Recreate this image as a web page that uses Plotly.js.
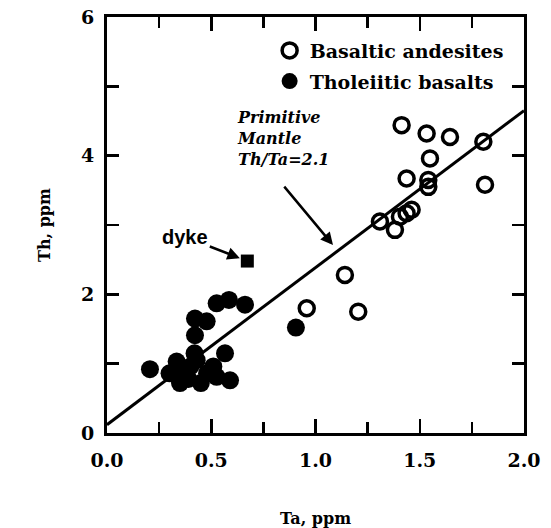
<!DOCTYPE html>
<html>
<head>
<meta charset="utf-8">
<script src="https://cdn.plot.ly/plotly-3.0.1.min.js"></script>
<style>html,body{margin:0;padding:0;background:#fff;}#chart{width:551px;height:528px;}</style>
</head>
<body>
<div id="chart"></div>
<script>
// Basaltic andesites (open circles)
const andesiteTa = [1.413, 1.533, 1.645, 1.805, 1.549, 1.437, 1.541, 1.541, 1.813, 1.461, 1.437, 1.405, 1.309, 1.381, 1.141, 0.958, 1.205];
const andesiteTh = [4.44, 4.32, 4.27, 4.20, 3.96, 3.67, 3.65, 3.55, 3.58, 3.22, 3.17, 3.12, 3.05, 2.93, 2.28, 1.80, 1.75];
// Tholeiitic basalts (filled circles)
const basaltTa = [0.206, 0.334, 0.30, 0.35, 0.366, 0.39, 0.40, 0.45, 0.43, 0.42, 0.48, 0.51, 0.526, 0.566, 0.59, 0.422, 0.422, 0.478, 0.526, 0.585, 0.662, 0.906];
const basaltTh = [0.92, 1.03, 0.86, 0.72, 0.86, 0.78, 0.96, 0.72, 1.05, 1.15, 0.86, 0.96, 0.81, 1.15, 0.76, 1.41, 1.65, 1.61, 1.87, 1.92, 1.85, 1.52];
// Dyke sample
const dykeTa = [0.673];
const dykeTh = [2.48];
// Primitive mantle reference line
const lineTa = [0, 2];
const lineTh = [0.12, 4.65];
// Axis ticks
const xTicks = [0, 0.5, 1.0, 1.5, 2.0];
const xTickText = ['0.0', '0.5', '1.0', '1.5', '2.0'];
const yTicks = [0, 2, 4, 6];
const yTickText = ['0', '2', '4', '6'];

const serif = '"DejaVu Serif", serif';

const traces = [
  {x: lineTa, y: lineTh, mode: 'lines', line: {color: 'black', width: 3}, showlegend: false, hoverinfo: 'skip'},
  {x: andesiteTa, y: andesiteTh, mode: 'markers', name: '<b>Basaltic andesites</b>', legendgroup: 'a',
   marker: {symbol: 'circle-open', size: 15, color: 'black', line: {width: 3.5, color: 'black'}}},
  {x: basaltTa, y: basaltTh, mode: 'markers', name: '<b>Tholeiitic basalts</b>', legendgroup: 'b',
   marker: {symbol: 'circle', size: 18, color: 'black'}},
  {x: dykeTa, y: dykeTh, mode: 'markers', showlegend: false,
   marker: {symbol: 'square', size: 13, color: 'black'}}
];

const layout = {
  width: 551, height: 528,
  margin: {l: 107, r: 27, t: 17, b: 95},
  paper_bgcolor: 'white', plot_bgcolor: 'white',
  showlegend: true,
  legend: {x: 0.39, y: 0.965, xanchor: 'left', yanchor: 'top', bgcolor: 'rgba(0,0,0,0)',
           font: {family: serif, size: 19, color: 'black', weight: 700}, tracegroupgap: 3, itemwidth: 30},
  xaxis: {
    range: [0, 2], tickvals: xTicks, ticktext: xTickText,
    showgrid: false, zeroline: false, showline: true, linewidth: 3, linecolor: 'black', mirror: 'allticks',
    ticks: 'inside', ticklen: 14, tickwidth: 2.5, tickcolor: 'black',
    minor: {dtick: 0.25, tick0: 0, ticks: 'inside', ticklen: 11, tickwidth: 2.5, tickcolor: 'black'},
    tickfont: {family: serif, size: 19, color: 'black', weight: 700},
    ticklabelstandoff: 8,
    title: {text: 'Ta, ppm', font: {family: serif, size: 16, color: 'black', weight: 700}, standoff: 45}
  },
  yaxis: {
    range: [0, 6], tickvals: yTicks, ticktext: yTickText,
    showgrid: false, zeroline: false, showline: true, linewidth: 3, linecolor: 'black', mirror: 'allticks',
    ticks: 'inside', ticklen: 12, tickwidth: 2.5, tickcolor: 'black',
    minor: {dtick: 1, tick0: 0, ticks: 'inside', ticklen: 12, tickwidth: 2.5, tickcolor: 'black'},
    tickfont: {family: serif, size: 19, color: 'black', weight: 700},
    ticklabelstandoff: 6,
    title: {text: 'Th, ppm', font: {family: serif, size: 16, color: 'black', weight: 700}, standoff: 27}
  },
  annotations: [
    {x: dykeTa[0], y: dykeTh[0], xref: 'x', yref: 'y', text: '<b>dyke</b>', showarrow: true,
     ax: -62, ay: -24, arrowhead: 2, arrowsize: 1, arrowwidth: 2.5, arrowcolor: 'black', standoff: 8,
     font: {family: '"Liberation Sans", Arial, sans-serif', size: 20, color: 'black'}},
    {x: 1.084, y: 2.71, xref: 'x', yref: 'y', text: '', showarrow: true,
     ax: -50, ay: -60, arrowhead: 2, arrowsize: 1, arrowwidth: 2.5, arrowcolor: 'black'},
    {x: 0.614, y: 4.72, xref: 'x', yref: 'y', xanchor: 'left', yanchor: 'top', align: 'left',
     text: '<b><i>Primitive<br>Mantle<br>Th/Ta=2.1</i></b>', showarrow: false,
     font: {family: serif, size: 16, color: 'black'}}
  ]
};

Plotly.newPlot('chart', traces, layout, {displayModeBar: false, staticPlot: true});
</script>
</body>
</html>
